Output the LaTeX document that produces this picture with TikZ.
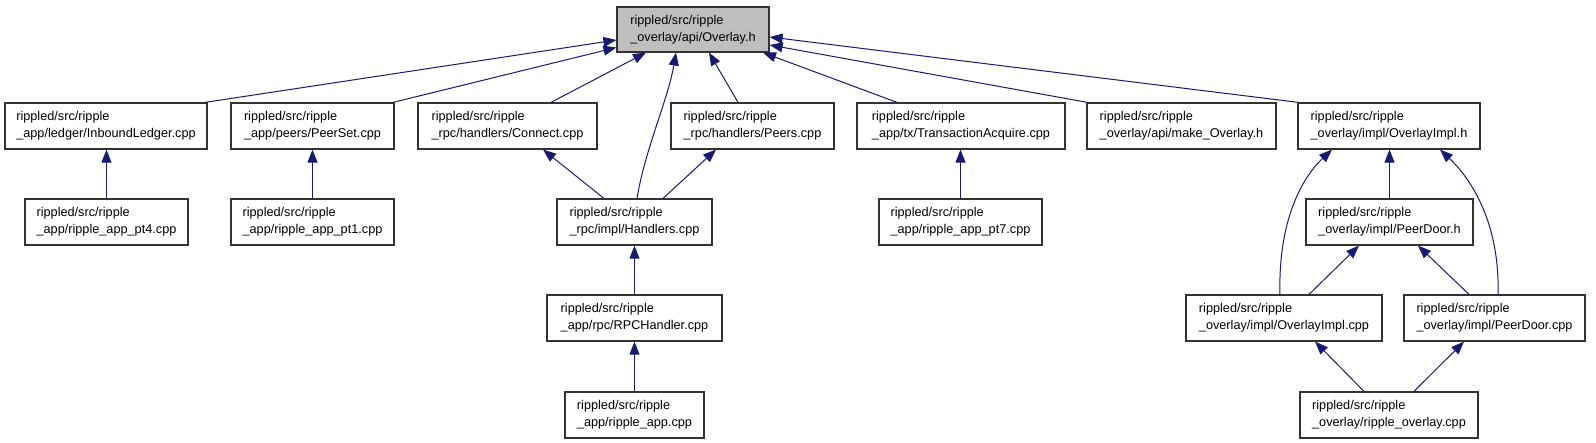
\documentclass[tikz,border=0pt]{standalone}
\usepackage{fontspec}
\newfontfamily\dfont{Liberation Sans}
\usetikzlibrary{arrows.meta}
\definecolor{edgeblue}{HTML}{191970}
\definecolor{hilite}{HTML}{BFBFBF}
\definecolor{boxline}{HTML}{333333}
\tikzset{
  fbox/.style={draw=boxline, line width=1.2pt, fill=white, minimum height=46pt, inner sep=0pt, align=left,
    font=\dfont\fontsize{12.7}{17}\selectfont},
  dep/.style={draw=edgeblue, line width=1pt, -{Triangle[length=13pt,width=10pt]}, color=edgeblue}
}
\begin{document}
\begin{tikzpicture}[x=1pt,y=-1pt]
\useasboundingbox (0,0) rectangle (1596,443);
% row 1
\node[fbox, fill=hilite, minimum width=152pt, minimum height=45pt] (overlay) at (693,29.5) {rippled/src/ripple\\\_overlay/api/Overlay.h};
% row 2
\node[fbox, minimum width=202pt] (inbound) at (106,126) {rippled/src/ripple\\\_app/ledger/InboundLedger.cpp};
\node[fbox, minimum width=163pt] (peerset) at (312.5,126) {rippled/src/ripple\\\_app/peers/PeerSet.cpp};
\node[fbox, minimum width=179pt] (connect) at (507.5,126) {rippled/src/ripple\\\_rpc/handlers/Connect.cpp};
\node[fbox, minimum width=163pt] (peers) at (752.5,126) {rippled/src/ripple\\\_rpc/handlers/Peers.cpp};
\node[fbox, minimum width=208pt] (txacq) at (961,126) {rippled/src/ripple\\\_app/tx/TransactionAcquire.cpp};
\node[fbox, minimum width=189pt] (make) at (1181.5,126) {rippled/src/ripple\\\_overlay/api/make\_Overlay.h};
\node[fbox, minimum width=182pt] (oimplh) at (1389,126) {rippled/src/ripple\\\_overlay/impl/OverlayImpl.h};
% row 3
\node[fbox, minimum width=163pt] (pt4) at (106.5,222) {rippled/src/ripple\\\_app/ripple\_app\_pt4.cpp};
\node[fbox, minimum width=163pt] (pt1) at (312.5,222) {rippled/src/ripple\\\_app/ripple\_app\_pt1.cpp};
\node[fbox, minimum width=155pt] (handlers) at (634.5,222) {rippled/src/ripple\\\_rpc/impl/Handlers.cpp};
\node[fbox, minimum width=163pt] (pt7) at (960.5,222) {rippled/src/ripple\\\_app/ripple\_app\_pt7.cpp};
\node[fbox, minimum width=167pt] (peerdoorh) at (1389.5,222) {rippled/src/ripple\\\_overlay/impl/PeerDoor.h};
% row 4
\node[fbox, minimum width=175pt] (rpch) at (634.5,318) {rippled/src/ripple\\\_app/rpc/RPCHandler.cpp};
\node[fbox, minimum width=196pt] (oimplcpp) at (1284,318) {rippled/src/ripple\\\_overlay/impl/OverlayImpl.cpp};
\node[fbox, minimum width=181pt] (peerdoorcpp) at (1494.5,318) {rippled/src/ripple\\\_overlay/impl/PeerDoor.cpp};
% row 5
\node[fbox, minimum width=139pt] (rippleapp) at (634.5,415) {rippled/src/ripple\\\_app/ripple\_app.cpp};
\node[fbox, minimum width=178pt] (rippleoverlay) at (1389,415) {rippled/src/ripple\\\_overlay/ripple\_overlay.cpp};

% edges to Overlay.h
\draw[dep] ([xshift=99pt]inbound.north) -- ([yshift=-10.5pt]overlay.west);
\draw[dep] ([xshift=80.5pt]peerset.north) -- ([yshift=-18pt]overlay.west);
\draw[dep] ([xshift=43.5pt]connect.north) -- ([xshift=-47pt]overlay.south);
\draw[dep] ([xshift=2.5pt]handlers.north) .. controls +(8,-49) and +(-8,47) .. ([xshift=-17pt]overlay.south);
\draw[dep] ([xshift=-14.5pt]peers.north) -- ([xshift=16pt]overlay.south);
\draw[dep] ([xshift=-64pt]txacq.north) -- ([xshift=70pt]overlay.south);
\draw[dep] ([xshift=1pt]make.north west) -- ([yshift=-15.5pt]overlay.east);
\draw[dep] ([xshift=1pt]oimplh.north west) -- ([yshift=-7.5pt]overlay.east);
% lower edges
\draw[dep] (pt4.north) -- (pt4.north |- inbound.south);
\draw[dep] (pt1.north) -- (peerset.south);
\draw[dep] ([xshift=-30.5pt]handlers.north) -- ([xshift=35.5pt]connect.south);
\draw[dep] ([xshift=28.5pt]handlers.north) -- ([xshift=-36.5pt]peers.south);
\draw[dep] (rpch.north) -- (handlers.south);
\draw[dep] (rippleapp.north) -- (rpch.south);
\draw[dep] (pt7.north) -- (pt7.north |- txacq.south);
\draw[dep] (peerdoorh.north) -- (peerdoorh.north |- oimplh.south);
\draw[dep] ([xshift=-4pt]oimplcpp.north) .. controls +(-2,-70) and +(-32,30) .. ([xshift=-57pt]oimplh.south);
\draw[dep] ([xshift=3.5pt]peerdoorcpp.north) .. controls +(2,-70) and +(32,30) .. ([xshift=51pt]oimplh.south);
\draw[dep] ([xshift=25pt]oimplcpp.north) -- ([xshift=-30.5pt]peerdoorh.south);
\draw[dep] ([xshift=-25.5pt]peerdoorcpp.north) -- ([xshift=28.5pt]peerdoorh.south);
\draw[dep] ([xshift=-25pt]rippleoverlay.north) -- ([xshift=31pt]oimplcpp.south);
\draw[dep] ([xshift=25pt]rippleoverlay.north) -- ([xshift=-30.5pt]peerdoorcpp.south);
\end{tikzpicture}
\end{document}
